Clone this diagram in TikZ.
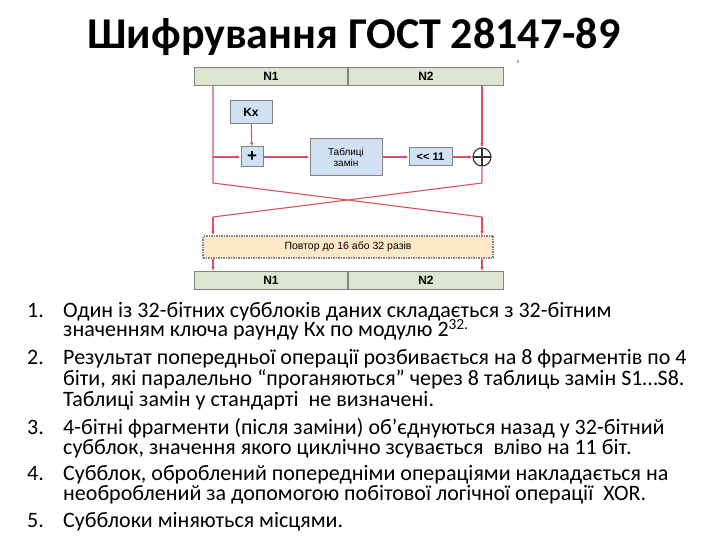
\documentclass[tikz,border=0pt]{standalone}
\usepackage{fontspec}
\setmainfont{Carlito}
\newfontfamily\arialfont{Liberation Sans}
\usetikzlibrary{arrows.meta}
\definecolor{barfill}{RGB}{221,229,208}
\definecolor{boxfill}{RGB}{207,225,242}
\definecolor{redline}{RGB}{222,78,98}
\definecolor{repfill}{RGB}{253,233,200}
\definecolor{edgegray}{RGB}{130,130,130}
\begin{document}
\begin{tikzpicture}[x=1pt, y=-1pt,
  bar/.style={draw=edgegray, fill=barfill, line width=1pt, minimum height=18pt, inner sep=0pt, font=\arialfont\bfseries\fontsize{12}{12}\selectfont},
  blk/.style={draw=edgegray, fill=boxfill, line width=1pt, inner sep=0pt, font=\arialfont\bfseries\fontsize{11}{11}\selectfont},
  wire/.style={draw=redline, line width=1.1pt},
  arr/.style={wire, -{Latex[length=4pt,width=3.5pt]}},
  item/.style={anchor=base west, inner sep=0pt, font=\fontsize{22}{18.5}\selectfont}]

\useasboundingbox (0,0) rectangle (720,540);

% title
\node[font=\bfseries\fontsize{44}{44}\selectfont, anchor=base] (title) at (354,49) {Шифрування ГОСТ 28147-89};
\fill[gray!60] (517,60) rectangle (519,63);

% blocks
\node[bar, minimum width=153pt, anchor=north west] (n1a) at (194,67) {N1};
\node[bar, minimum width=155pt, anchor=north west] (n2a) at (n1a.north east) {N2};
\node[blk, minimum width=42pt, minimum height=23pt, font=\arialfont\bfseries\fontsize{12}{12}\selectfont] (kx) at (251,112.5) {Kx};
\node[blk, minimum width=22pt, minimum height=20pt, font=\arialfont\bfseries\fontsize{17}{17}\selectfont] (sum) at (252,157) {+};
\node[blk, minimum width=72pt, minimum height=37pt, align=center, font=\arialfont\fontsize{10}{11}\selectfont] (tab) at (346,157) {Таблиці\\замін};
\node[blk, minimum width=43pt, minimum height=18pt] (rot) at (430.5,157) {<{}< 11};
\node[circle, draw=black!80, fill=white, line width=1.1pt, minimum size=18pt, inner sep=0pt,
  path picture={\draw[black!80, line width=1.1pt] (path picture bounding box.north) -- (path picture bounding box.south) (path picture bounding box.west) -- (path picture bounding box.east);}] (xor) at (482,157) {};
\node[draw=edgegray, fill=repfill, densely dotted, line width=1.5pt, minimum width=290pt, minimum height=22pt, font=\arialfont\fontsize{10.5}{10.5}\selectfont] (rep) at (348,247) {Повтор до 16 або 32 разів};
\node[bar, minimum width=153pt, anchor=north west] (n1b) at (194,271) {N1};
\node[bar, minimum width=155pt, anchor=north west] (n2b) at (n1b.north east) {N2};

% wires
\coordinate (lx) at (213,0);
\coordinate (rx) at (482,0);
\coordinate (ltop) at (213,183);
\coordinate (rtop) at (482,183);
\coordinate (lbot) at (213,217);
\coordinate (rbot) at (482,217);

\draw[wire] (n1a.south -| lx) -- (ltop) -- (rbot);
\draw[arr] (rbot) -- (rep.north -| rx);
\draw[arr] (sum -| lx) -- (sum.west);
\draw[arr] (kx) -- (sum);
\draw[arr] (sum) -- (tab);
\draw[arr] (tab) -- (rot);
\draw[arr] (rot) -- (xor);
\draw[arr] (n2a.south -| rx) -- (xor);
\draw[wire] (xor) -- (rtop) -- (lbot);
\draw[arr] (lbot) -- (rep.north -| lx);
\draw[arr] (rep.south -| lx) -- (n1b.north -| lx);
\draw[arr] (rep.south -| rx) -- (n2b.north -| rx);

% list
\node[item] (num1) at (27,317) {1.};
\node[item] (txt1) at (63,317) {\begin{tabular}[t]{@{}l@{}}Один із 32-бітних субблоків даних складається з 32-бітним\\значенням ключа раунду Кх по модулю 2\smash{\textsuperscript{32.}}\end{tabular}};
\node[item] (num2) at (27,364) {2.};
\node[item] (txt2) at (63,364) {\begin{tabular}[t]{@{}l@{}}Результат попередньої операції розбивається на 8 фрагментів по 4\\біти, які паралельно “проганяються” через 8 таблиць замін S1…S8.\\Таблиці замін у стандарті\ \ не визначені.\end{tabular}};
\node[item] (num3) at (27,434) {3.};
\node[item] (txt3) at (63,434) {\begin{tabular}[t]{@{}l@{}}4-бітні фрагменти (після заміни) об’єднуються назад у 32-бітний\\субблок, значення якого циклічно зсувається\ \ вліво на 11 біт.\end{tabular}};
\node[item] (num4) at (27,480) {4.};
\node[item] (txt4) at (63,480) {\begin{tabular}[t]{@{}l@{}}Субблок, оброблений попередніми операціями накладається на\\необроблений за допомогою побітової логічної операції\ \ XOR.\end{tabular}};
\node[item] (num5) at (27,527) {5.};
\node[item] (txt5) at (63,527) {Субблоки міняються місцями.};

\end{tikzpicture}
\end{document}
